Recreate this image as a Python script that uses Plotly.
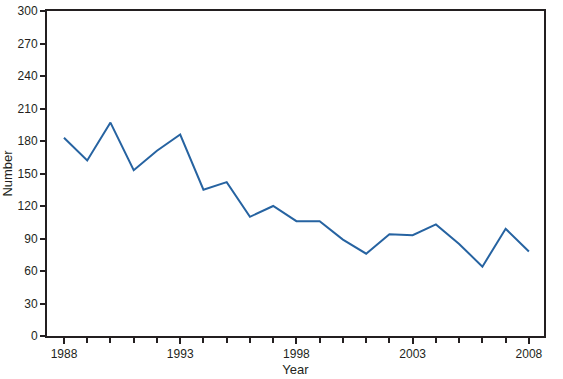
import plotly.graph_objects as go

years = list(range(1988, 2009))
counts = [183, 162, 197, 153, 171, 186, 135, 142, 110, 120, 106, 106, 89, 76, 94, 93, 103, 85, 64, 99, 78]
x_tick_vals = [1988, 1993, 1998, 2003, 2008]
y_tick_vals = list(range(0, 301, 30))

fig = go.Figure()
fig.add_trace(go.Scatter(x=years, y=counts, mode="lines",
                         line=dict(color="#2663a1", width=2), showlegend=False))

axis_color = "#231f20"
fig.update_layout(
    width=563, height=379,
    margin=dict(l=47, r=19, t=11, b=43),
    paper_bgcolor="white", plot_bgcolor="white",
    font=dict(family="Liberation Sans, Arial, sans-serif", size=12, color=axis_color),
)
fig.update_xaxes(
    range=[1987.27, 2008.65], tickvals=x_tick_vals, ticks="outside", ticklen=6, tickwidth=2,
    tickcolor=axis_color, showline=True, linecolor=axis_color, linewidth=2, mirror=True,
    showgrid=False, zeroline=False, automargin=False,
    minor=dict(dtick=1, tick0=1988, ticks="outside", ticklen=5, tickwidth=2, tickcolor=axis_color, showgrid=False),
    title=dict(text="Year", font=dict(size=13), standoff=4),
)
fig.update_yaxes(
    range=[0, 300], tickvals=y_tick_vals, ticks="outside", ticklen=5, tickwidth=2,
    tickcolor=axis_color, showline=True, linecolor=axis_color, linewidth=2, mirror=True,
    showgrid=False, zeroline=False, automargin=False,
    title=dict(text="Number", font=dict(size=13), standoff=4),
)
fig.write_html("out.html", config={"displayModeBar": False},
               post_script="document.body.style.margin='0px';")
